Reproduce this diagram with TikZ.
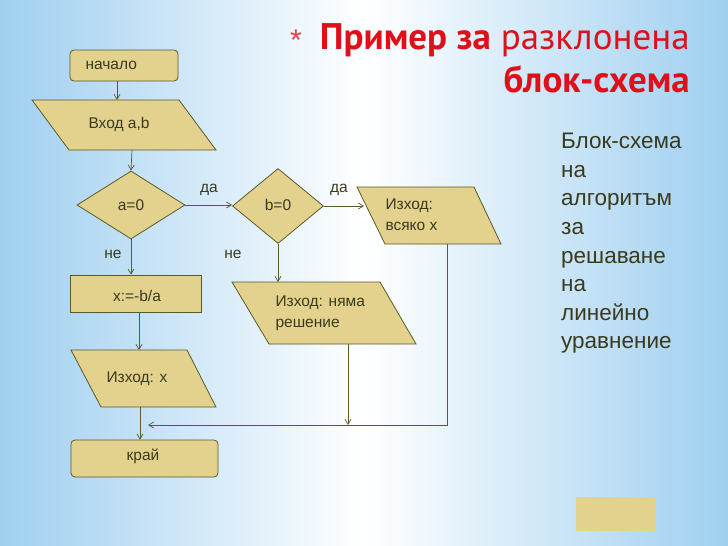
\documentclass[tikz,border=0pt]{standalone}
\usepackage{fontspec}
\setmainfont{Liberation Sans}
\newfontfamily\titlefont{PT Sans}
\usetikzlibrary{shapes.geometric,arrows.meta}
\definecolor{tan}{HTML}{E3D28E}
\definecolor{edge}{HTML}{5A5A28}
\definecolor{txt}{HTML}{3A3A1E}
\definecolor{sky}{HTML}{9FCFF0}
\definecolor{ttl}{HTML}{E0101A}
\tikzset{
 box/.style={draw=edge,fill=tan,line width=0.8pt},
 lbl/.style={font=\fontsize{15.5}{18}\selectfont,text=txt},
 con/.style={draw=edge,line width=0.7pt,-{Straight Barb[length=5pt,width=6pt]}},
}
\begin{document}
\begin{tikzpicture}[x=1pt,y=-1pt]
\useasboundingbox (0,0) rectangle (728,546);
\shade[left color=sky,right color=sky,middle color=white,shading angle=90] (0,0) rectangle (728,546);
% title
\node[anchor=base east,inner sep=0,text=ttl,font=\titlefont\fontsize{37}{40}\selectfont] (t1) at (690,49) {\textbf{Пример за} разклонена};
\node[anchor=base east,inner sep=0,text=ttl,font=\titlefont\bfseries\fontsize{37}{40}\selectfont] (t2) at (690,92) {блок-схема};
\node[anchor=base east,inner sep=0,text=ttl!80,font=\fontsize{30}{30}\selectfont] (star) at (302,50) {*};
% right text
\node[anchor=north west,inner sep=0,align=left,text=txt,font=\fontsize{22.5}{28.6}\selectfont] (desc) at (561,133)
 {Блок-схема\\на\\алгоритъм\\за\\решаване\\на\\линейно\\уравнение};
% shapes
\node[box,rounded corners=4pt,minimum width=108,minimum height=31,inner sep=0] (start) at (124,65.5) {};
\node[lbl,anchor=west] at (82,65.5) {начало};
\path[box] (32,100) -- (179,100) -- (216,150) -- (69,150) -- cycle;
\node[lbl] (in) at (119,124) {Вход a,b};
\coordinate (inT) at (117,100); \coordinate (inB) at (132,150);
\node[box,diamond,minimum width=108,minimum height=68,inner sep=0] (a0) at (131,205) {};
\node[lbl] at (131,205) {a=0};
\node[box,diamond,minimum width=91,minimum height=75,inner sep=0] (b0) at (278,206) {};
\node[lbl] at (278,205) {b=0};
\path[box] (357,187) -- (474,187) -- (501,244) -- (385,244) -- cycle;
\node[lbl,align=left,anchor=west] (all) at (382,215) {Изход:\\[3pt]всяко x};
\coordinate (allL) at (364,206); \coordinate (allB) at (447,244);
\node[box,minimum width=131,minimum height=37,inner sep=0] (calc) at (135.5,293.5) {};
\node[lbl] at (137,296) {x:=-b/a};
\path[box] (232,282) -- (380,282) -- (416,344) -- (269,344) -- cycle;
\node[lbl,align=left,anchor=west] (none) at (272,313) {Изход: няма\\[3pt]решение};
\coordinate (noneT) at (278,282); \coordinate (noneB) at (348,344);
\path[box] (71,350) -- (187,350) -- (216,407) -- (101,407) -- cycle;
\node[lbl] (outx) at (137,379) {Изход: x};
\coordinate (outT) at (139,350); \coordinate (outB) at (140,407);
\node[box,rounded corners=4pt,minimum width=147,minimum height=37,inner sep=0] (end) at (144.5,458.5) {};
\node[lbl] at (143,456) {край};
\coordinate (m1) at (447,425); \coordinate (m2) at (148,425); \coordinate (m3) at (348,425);
% connectors
\draw[con] (start.south -| inT) -- (inT);
\draw[con] (inB) -- (a0.north);
\draw[con] (a0.east) -- (b0.west |- a0.east);
\draw[con] (b0.east) -- (allL);
\draw[con] (a0.south) -- (calc.north -| a0.south);
\draw[con] (b0.south) -- (noneT);
\draw[con] (calc.south -| outT) -- (outT);
\draw[con] (outB) -- (end.north -| outB);
\draw[con] (noneB) -- (m3);
\draw[con] (allB) -- (m1) -- (m2);
% labels
\node[lbl] (da1) at (209,190) {да};
\node[lbl] (da2) at (339,190) {да};
\node[lbl] (ne1) at (113,254) {не};
\node[lbl] (ne2) at (233,254) {не};
\node[fill=tan,minimum width=80,minimum height=34,inner sep=0] (sq) at (616,514) {};
\end{tikzpicture}
\end{document}
